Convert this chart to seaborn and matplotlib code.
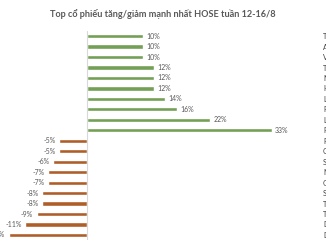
import matplotlib
matplotlib.use("Agg")
import matplotlib.pyplot as plt
import seaborn as sns
import pandas as pd

title = "Top cổ phiếu tăng/giảm mạnh nhất HOSE tuần 12-16/8"
tickers = ["TCO", "ASP", "VPS", "TIX", "NAV", "HAS", "LIX", "PTC", "L10", "RIC",
           "PXI", "CLW", "SII", "MCG", "GTA", "SVT", "TCR", "TDW", "DAH", "DTT"]
values = [10, 10, 10, 12, 12, 12, 14, 16, 22, 33,
          -5, -5, -6, -7, -7, -8, -8, -9, -11, -14]
groups = ["up" if v > 0 else "down" for v in values]

df = pd.DataFrame({"ticker": tickers, "value": values, "group": groups})

sns.set_theme(style="white")
plt.rcParams["font.family"] = ["Lato", "DejaVu Sans"]

fig = plt.figure(figsize=(3.26, 2.45), dpi=100)
ax = fig.add_axes([0, 0.0196, 316 / 326, 0.874 - 0.0196])

sns.barplot(data=df, y="ticker", x="value", hue="group", orient="h",
            palette={"up": "#70AD47", "down": "#C55A11"}, dodge=False,
            width=0.4, legend=False, ax=ax)

ax.set_xlim(-87 / 5.6, 229 / 5.6)
ax.set_ylim(19.5, -0.5)
ax.axvline(0, color="#D9D9D9", lw=0.8, ymax=1.0)
for s in ax.spines.values():
    s.set_visible(False)
ax.set_xticks([])
ax.set_xlabel("")
ax.set_ylabel("")
ax.yaxis.tick_right()
ax.tick_params(axis="y", length=0, pad=5, labelsize=5.2, labelcolor="#404040")

for i, v in enumerate(values):
    if v > 0:
        ax.text(v + 0.6, i, f"{v}%", va="center", ha="left", fontsize=5, color="#595959")
    else:
        ax.text(v - 0.6, i, f"{v}%", va="center", ha="right", fontsize=5, color="#595959")

fig.text(163 / 326, 1 - 14 / 245, title, ha="center", va="center",
         fontsize=6.6, fontweight="bold", color="#595959")

fig.savefig("out.png", dpi=100)
